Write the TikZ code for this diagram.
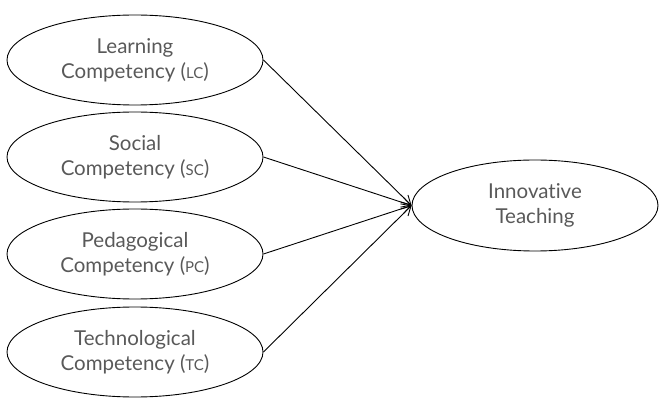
\documentclass[tikz,border=0pt]{standalone}
\usepackage{fontspec}
\setmainfont{Lato}[Ligatures={NoCommon}]
\usetikzlibrary{shapes.geometric,arrows.meta}
\definecolor{txtgray}{HTML}{595959}
\newcommand{\abbr}[1]{{\fontsize{15}{25}\selectfont #1}}
\begin{document}
\begin{tikzpicture}[x=1pt,y=-1pt,
  comp/.style={ellipse,draw=black,line width=0.9pt,minimum width=256pt,minimum height=90pt,
    inner sep=0pt,align=center,text=txtgray,font=\fontsize{20.5}{25}\selectfont},
  link/.style={line width=0.9pt,-{Straight Barb[length=9pt,width=10pt]}}]
\useasboundingbox (0,0) rectangle (659,398);
\node[comp] (lc) at (135,60) {Learning\\Competency (\abbr{LC})};
\node[comp] (sc) at (135,157) {Social\\Competency (\abbr{SC})};
\node[comp] (pc) at (135,254) {Pedagogical\\Competency (\abbr{PC})};
\node[comp] (tc) at (135,352) {Technological\\Competency (\abbr{TC})};
\node[comp,minimum width=246pt,minimum height=91pt] (it) at (535,205.5) {Innovative\\Teaching};
\draw[link] (lc.east) -- (it.west);
\draw[link] (sc.east) -- (it.west);
\draw[link] (pc.east) -- (it.west);
\draw[link] (tc.east) -- (it.west);
\end{tikzpicture}
\end{document}
